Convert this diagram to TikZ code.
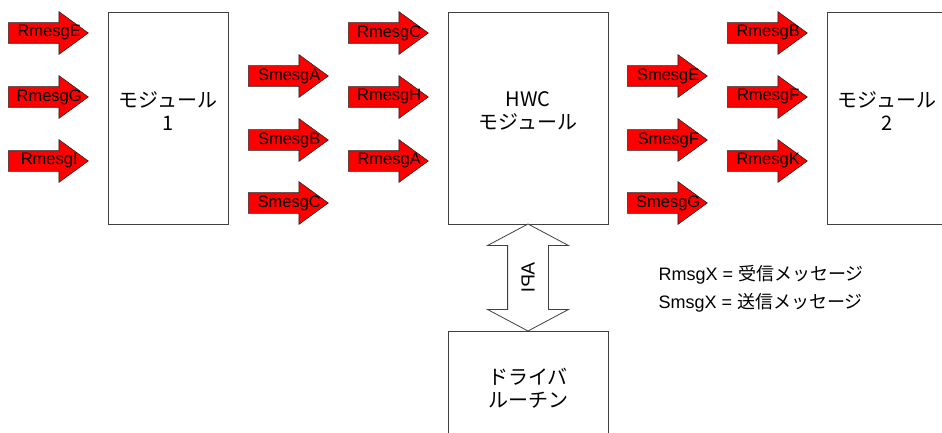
\documentclass[tikz,border=0pt]{standalone}
\usepackage{fontspec}
\setmainfont{Liberation Sans}
\newfontfamily\jpfont{Noto Sans CJK JP}
\usetikzlibrary{shapes.arrows,positioning,calc}

\begin{document}
\begin{tikzpicture}[x=1pt, y=-1pt,
  msgtext/.style={font=\fontsize{16.5}{18}\selectfont, inner sep=0pt, xshift=8pt},
  msg/.style={single arrow, draw=black!85, fill=red, line width=0.6pt, minimum height=80pt, inner xsep=0pt, inner ysep=10pt, single arrow head extend=11pt, single arrow tip angle=72, anchor=tail, label={[msgtext]center:#1}},
  modbox/.style={draw=black!75, line width=0.8pt, minimum width=120pt, minimum height=212pt},
  modtext/.style={align=center, font=\jpfont\fontsize{20}{23}\selectfont, yshift=7pt}]
\path[use as bounding box] (0,0) rectangle (942,433);
\clip (0,0) rectangle (942,433);
% modules
\node[modbox, label={[modtext]center:モジュール\\1}] (mod1) at (168,118) {};
\node[modbox, minimum width=160pt, label={[modtext]center:HWC\\モジュール}] (hwc) at (528,118) {};
\node[modbox, label={[modtext]center:モジュール\\2}] (mod2) at (887,118) {};
\node[modbox, minimum width=160pt, minimum height=128pt, label={[modtext]center:ドライバ\\ルーチン}] (drv) at (528,395) {};
% messages into module 1
\node[msg=RmesgE] (rE) at (8,33) {};
\node[msg=RmesgG] (rG) at (8,97) {};
\node[msg=RmesgI] (rI) at (8,161) {};
% messages from module 1
\node[msg=SmesgA] (sA) at (248,76) {};
\node[msg=SmesgB] (sB) at (248,140) {};
\node[msg=SmesgC] (sC) at (248,203) {};
% messages into HWC
\node[msg=RmesgC] (rC) at (348,33) {};
\node[msg=RmesgH] (rH) at (348,97) {};
\node[msg=RmesgA] (rA) at (348,161) {};
% messages from HWC
\node[msg=SmesgE] (sE) at (627,76) {};
\node[msg=SmesgF] (sF) at (627,140) {};
\node[msg=SmesgG] (sG) at (627,203) {};
% messages into module 2
\node[msg=RmesgB] (rB) at (727,33) {};
\node[msg=RmesgF] (rF) at (727,97) {};
\node[msg=RmesgK] (rK) at (727,161) {};
% API between HWC and driver
\node[double arrow, rotate=90, draw=black!75, fill=white, line width=0.8pt, minimum height=107pt, inner xsep=0pt, inner ysep=20pt, double arrow head extend=20pt, double arrow tip angle=124] (api) at ($(hwc.south)!0.5!(drv.north)$) {};
\node[rotate=-90, yscale=-1, font=\fontsize{19}{20}\selectfont] (apitext) at (api.center) {API};
% legend
\node[anchor=west, align=left, font=\fontsize{18}{28}\selectfont] (legend) at (655,289) {RmsgX = {\jpfont 受信メッセージ}\\SmsgX = {\jpfont 送信メッセージ}};
\end{tikzpicture}
\end{document}
